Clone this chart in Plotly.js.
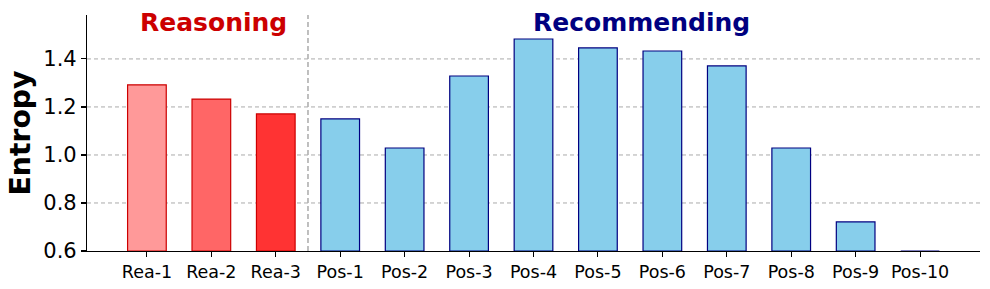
<!DOCTYPE html>
<html>
<head>
<meta charset="utf-8">
<script src="https://cdn.plot.ly/plotly-3.0.1.min.js"></script>
<style>html,body{margin:0;padding:0;background:#fff;}#chart{width:990px;height:289px;}</style>
</head>
<body>
<div id="chart"></div>
<script>
const categories = ["Rea-1","Rea-2","Rea-3","Pos-1","Pos-2","Pos-3","Pos-4","Pos-5","Pos-6","Pos-7","Pos-8","Pos-9","Pos-10"];
const entropy = [1.292, 1.233, 1.171, 1.150, 1.029, 1.329, 1.483, 1.446, 1.433, 1.371, 1.029, 0.721, 0.600];
const fillColors = ["#FF9999","#FF6666","#FF3333","#87CEEB","#87CEEB","#87CEEB","#87CEEB","#87CEEB","#87CEEB","#87CEEB","#87CEEB","#87CEEB","#87CEEB"];
const edgeColors = ["#CC0000","#CC0000","#CC0000","#000080","#000080","#000080","#000080","#000080","#000080","#000080","#000080","#000080","#000080"];
const yTicks = [0.6, 0.8, 1.0, 1.2, 1.4];
const yTickText = ["0.6","0.8","1.0","1.2","1.4"];
const sectionLabels = ["Reasoning","Recommending"];
const sectionX = [1.03, 7.68];
const sectionColors = ["#CC0000","#000080"];
const dividerX = 2.5;

const xIdx = categories.map((c,i)=>i);

const trace = {
  type: 'bar',
  x: xIdx,
  y: entropy.map(v => v - 0.6),
  base: 0.6,
  width: 0.6,
  marker: {color: fillColors, line: {color: edgeColors, width: 1.2}},
  hoverinfo: 'skip'
};

const gridShapes = yTicks.slice(1).map(v => ({
  type:'line', xref:'paper', x0:0, x1:1, yref:'y', y0:v, y1:v,
  line:{color:'#aaaaaa', width:1, dash:'4px,3px'}, layer:'below'
}));

const layout = {
  width: 990, height: 289,
  margin: {l: 87, r: 10, t: 15, b: 38, pad: 0},
  paper_bgcolor: '#fff', plot_bgcolor: '#fff',
  showlegend: false,
  font: {family: 'DejaVu Sans', color: '#000'},
  xaxis: {
    range: [-0.93, 12.93],
    tickmode: 'array', tickvals: xIdx, ticktext: categories,
    tickfont: {size: 17.5, family: 'DejaVu Sans', color:'#000'},
    ticks: 'outside', ticklen: 5, tickwidth: 1.1, tickcolor: '#000',
    showgrid: false, zeroline: false,
    showline: true, linecolor: '#000', linewidth: 1.1,
    fixedrange: true
  },
  yaxis: {
    range: [0.6, 1.583],
    tickmode: 'array', tickvals: yTicks, ticktext: yTickText,
    tickfont: {size: 21, family: 'DejaVu Sans', color:'#000'},
    ticks: 'outside', ticklen: 5, tickwidth: 1.1, tickcolor: '#000',
    showgrid: false, zeroline: false,
    showline: true, linecolor: '#000', linewidth: 1.1,
    title: {text: '<b>Entropy</b>', font: {size: 28.3, family: 'DejaVu Sans', color:'#000'}, standoff: 4},
    fixedrange: true
  },
  shapes: gridShapes.concat([{
    type:'line', xref:'x', x0:dividerX, x1:dividerX, yref:'paper', y0:0, y1:1,
    line:{color:'#b0b0b0', width:1.6, dash:'5px,3px'}, layer:'below'
  }]),
  annotations: sectionLabels.map((t,i)=>({
    text: '<b>'+t+'</b>', x: sectionX[i], xref:'x', y: 0.967, yref:'paper',
    xanchor:'center', yanchor:'middle', showarrow:false,
    font:{size:25, family:'DejaVu Sans', color: sectionColors[i]}
  }))
};

Plotly.newPlot('chart', [trace], layout, {staticPlot: true, displayModeBar: false});
</script>
</body>
</html>
